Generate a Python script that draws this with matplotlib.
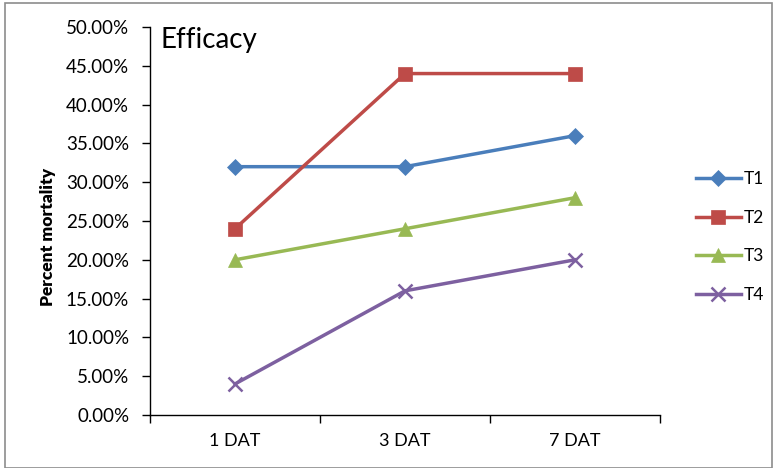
import matplotlib
matplotlib.use("Agg")
import matplotlib.pyplot as plt
from matplotlib.patches import Rectangle
from matplotlib.ticker import FuncFormatter, MultipleLocator

plt.rcParams['font.family'] = ['Lato', 'DejaVu Sans']

categories = ["1 DAT", "3 DAT", "7 DAT"]
series_names = ["T1", "T2", "T3", "T4"]
t1 = [0.32, 0.32, 0.36]
t2 = [0.24, 0.44, 0.44]
t3 = [0.20, 0.24, 0.28]
t4 = [0.04, 0.16, 0.20]

colors = ["#4A7EBB", "#BE4B48", "#98B954", "#7D60A0"]
markers = ["D", "s", "^", "x"]
msizes = [8, 10, 10, 10]

fig = plt.figure(figsize=(7.75, 4.68), dpi=100)
ax = fig.add_axes([150 / 775, 1 - 415 / 468, 510 / 775, 388 / 468])

x = list(range(len(categories)))
for name, vals, c, m, ms in zip(series_names, [t1, t2, t3, t4], colors, markers, msizes):
    ax.plot(x, vals, color=c, lw=2.5, marker=m, markersize=ms,
            markeredgewidth=1.8 if m == "x" else 0.5, markeredgecolor=c,
            markerfacecolor=c, label=name, clip_on=False)

ax.set_xlim(-0.5, len(categories) - 0.5)
ax.set_ylim(0, 0.5)
ax.yaxis.set_major_locator(MultipleLocator(0.05))
ax.yaxis.set_major_formatter(FuncFormatter(lambda v, p: f"{v * 100:.2f}%"))
ax.set_xticks([i - 0.5 for i in range(len(categories) + 1)])
ax.set_xticklabels([])
ax.set_xticks(x, minor=True)
ax.set_xticklabels(categories, minor=True)
ax.tick_params(axis="x", which="minor", length=0, pad=13, labelsize=13)
ax.tick_params(axis="x", which="major", length=6, direction="out", width=1)
ax.tick_params(axis="y", length=6, direction="out", width=1, labelsize=13.5, pad=9)

for s in ("top", "right"):
    ax.spines[s].set_visible(False)
for s in ("left", "bottom"):
    ax.spines[s].set_linewidth(1)
    ax.spines[s].set_color("black")

ax.set_ylabel("Percent mortality", fontsize=12.5, fontweight="heavy")
ax.yaxis.set_label_coords(-0.184, 0.46)
ax.text(0.02, 1.0, "Efficacy", transform=ax.transAxes, fontsize=20,
        ha="left", va="top")

ax.legend(loc="center left", bbox_to_anchor=(680 / 775, 1 - 237 / 468),
          bbox_transform=fig.transFigure, frameon=False, fontsize=12.5,
          handlelength=2.6, labelspacing=1.3, handletextpad=0.2)

fig.patches.append(Rectangle((5 / 775, 0), 767 / 775, 465 / 468,
                             transform=fig.transFigure, fill=False,
                             edgecolor="#8c8c8c", lw=1.2))

fig.savefig("out.png", dpi=100)
